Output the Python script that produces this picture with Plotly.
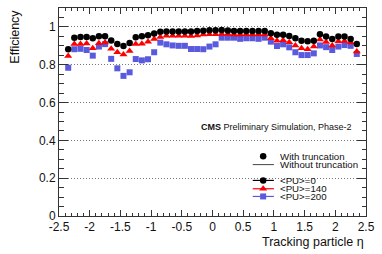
import plotly.graph_objects as go

# ---- data ----
eta = [-2.35, -2.25, -2.15, -2.05, -1.95, -1.85, -1.75, -1.65, -1.55, -1.45,
       -1.35, -1.25, -1.15, -1.05, -0.95, -0.85, -0.75, -0.65, -0.55, -0.45,
       -0.35, -0.25, -0.15, -0.05, 0.05, 0.15, 0.25, 0.35, 0.45, 0.55,
       0.65, 0.75, 0.85, 0.95, 1.05, 1.15, 1.25, 1.35, 1.45, 1.55,
       1.65, 1.75, 1.85, 1.95, 2.05, 2.15, 2.25, 2.35]

eff_pu0 = [0.882, 0.943, 0.947, 0.947, 0.940, 0.950, 0.951, 0.928, 0.910, 0.899,
           0.915, 0.945, 0.950, 0.956, 0.965, 0.974, 0.976, 0.976, 0.976, 0.976,
           0.976, 0.978, 0.980, 0.982, 0.982, 0.983, 0.981, 0.979, 0.979, 0.979,
           0.979, 0.979, 0.979, 0.967, 0.958, 0.958, 0.952, 0.940, 0.927, 0.924,
           0.927, 0.961, 0.949, 0.936, 0.949, 0.949, 0.936, 0.910]

eff_pu140 = [0.846, 0.910, 0.910, 0.912, 0.887, 0.913, 0.917, 0.884, 0.866, 0.854,
             0.873, 0.910, 0.911, 0.922, 0.936, 0.946, 0.953, 0.953, 0.953, 0.953,
             0.952, 0.955, 0.960, 0.961, 0.961, 0.962, 0.962, 0.960, 0.960, 0.961,
             0.960, 0.961, 0.960, 0.940, 0.927, 0.929, 0.919, 0.902, 0.887, 0.882,
             0.896, 0.934, 0.920, 0.902, 0.924, 0.925, 0.917, 0.870]

eff_pu200 = [0.784, 0.882, 0.884, 0.878, 0.848, 0.896, 0.909, 0.831, 0.781, 0.741,
             0.760, 0.830, 0.823, 0.829, 0.866, 0.917, 0.908, 0.902, 0.900, 0.900,
             0.883, 0.883, 0.882, 0.896, 0.908, 0.943, 0.943, 0.943, 0.937, 0.940,
             0.940, 0.937, 0.943, 0.922, 0.899, 0.908, 0.892, 0.866, 0.851, 0.851,
             0.860, 0.902, 0.893, 0.878, 0.896, 0.904, 0.900, 0.857]

x_ticks = [-2.5, -2, -1.5, -1, -0.5, 0, 0.5, 1, 1.5, 2, 2.5]
x_tick_text = ["-2.5", "-2", "-1.5", "-1", "-0.5", "0", "0.5", "1", "1.5", "2", "2.5"]
y_ticks = [0, 0.2, 0.4, 0.6, 0.8, 1.0]
y_tick_text = ["0", "0.2", "0.4", "0.6", "0.8", "1"]

series_names = ["&lt;PU&gt;=0", "&lt;PU&gt;=140", "&lt;PU&gt;=200"]

FONT = "Liberation Sans, Arial, Helvetica, sans-serif"
BLACK = "#000000"
RED = "#ff0000"
BLUE = "#5a5ade"

fig = go.Figure()

# data traces (blue under red under black)
fig.add_trace(go.Scatter(x=eta, y=eff_pu200, mode="markers",
                         marker=dict(symbol="square", size=6, color=BLUE),
                         showlegend=False))
fig.add_trace(go.Scatter(x=eta, y=eff_pu140, mode="markers",
                         marker=dict(symbol="triangle-up", size=7, color=RED),
                         showlegend=False))
fig.add_trace(go.Scatter(x=eta, y=eff_pu0, mode="markers",
                         marker=dict(symbol="circle", size=6.5, color=BLACK),
                         showlegend=False))

# ---- hand-made legend on an overlay (0..1) coordinate system ----
lx0, lx1, lxm, ltx = 0.631, 0.700, 0.665, 0.714
leg_y = [0.287, 0.247, 0.171, 0.131, 0.094]

fig.add_trace(go.Scatter(x=[lxm], y=[leg_y[0]], mode="markers", xaxis="x2", yaxis="y2",
                         marker=dict(symbol="circle", size=6.5, color=BLACK),
                         showlegend=False, hoverinfo="skip"))
fig.add_trace(go.Scatter(x=[lx0, lx1], y=[leg_y[1], leg_y[1]], mode="lines",
                         xaxis="x2", yaxis="y2", line=dict(color="#444444", width=1),
                         showlegend=False, hoverinfo="skip"))
for yy, col, sym, sz in [(leg_y[2], BLACK, "circle", 6.5),
                         (leg_y[3], RED, "triangle-up", 7),
                         (leg_y[4], BLUE, "square", 6)]:
    fig.add_trace(go.Scatter(x=[lx0, lxm, lx1], y=[yy, yy, yy], mode="lines",
                             xaxis="x2", yaxis="y2", line=dict(color=col, width=1.2),
                             showlegend=False, hoverinfo="skip"))
    fig.add_trace(go.Scatter(x=[lxm], y=[yy], mode="markers",
                             xaxis="x2", yaxis="y2",
                             marker=dict(symbol=sym, size=sz, color=col),
                             showlegend=False, hoverinfo="skip"))

legend_texts = ["With truncation", "Without truncation"] + series_names
annotations = []
for txt, yy in zip(legend_texts, leg_y):
    annotations.append(dict(x=ltx, y=yy, xref="paper", yref="paper", text=txt,
                            showarrow=False, xanchor="left", yanchor="middle",
                            font=dict(family=FONT, size=9.7, color="#111")))

annotations.append(dict(x=0.961, y=0.428, xref="paper", yref="paper",
                        text="<b>CMS</b> Preliminary Simulation, Phase-2",
                        showarrow=False, xanchor="right", yanchor="middle",
                        font=dict(family=FONT, size=9, color="#111")))
annotations.append(dict(x=1.0, y=-0.126, xref="paper", yref="paper",
                        text="Tracking particle η",
                        showarrow=False, xanchor="right", yanchor="middle",
                        font=dict(family=FONT, size=12.5, color="#111")))
annotations.append(dict(x=-0.1444, y=1.0, xref="paper", yref="paper",
                        text="Efficiency", textangle=-90,
                        showarrow=False, xanchor="center", yanchor="top",
                        font=dict(family=FONT, size=12.5, color="#111")))

axis_common = dict(showline=True, linecolor="#333", linewidth=1, mirror="ticks",
                   ticks="inside", tickcolor="#333", zeroline=False,
                   tickfont=dict(family=FONT, size=12, color="#111"))

fig.update_layout(
    width=382, height=254,
    margin=dict(l=59, r=16, t=8, b=38),
    paper_bgcolor="white", plot_bgcolor="white",
    showlegend=False,
    annotations=annotations,
    xaxis=dict(range=[-2.5, 2.5], tickvals=x_ticks, ticktext=x_tick_text,
               ticklen=6, showgrid=False,
               minor=dict(dtick=0.1, tick0=-2.5, ticklen=3, ticks="inside",
                          tickcolor="#333", showgrid=False),
               **axis_common),
    yaxis=dict(range=[0, 1.1], tickvals=y_ticks, ticktext=y_tick_text,
               ticklen=9, showgrid=True, gridcolor="#777", gridwidth=1,
               griddash="1px,2px",
               minor=dict(dtick=0.05, tick0=0, ticklen=4.5, ticks="inside",
                          tickcolor="#333", showgrid=False),
               **axis_common),
    xaxis2=dict(overlaying="x", range=[0, 1], visible=False, anchor="y2"),
    yaxis2=dict(overlaying="y", range=[0, 1], visible=False, anchor="x2"),
)

fig.write_html("out.html",
               config={"displayModeBar": False},
               post_script="document.body.style.margin='0';document.body.style.overflow='hidden';")
